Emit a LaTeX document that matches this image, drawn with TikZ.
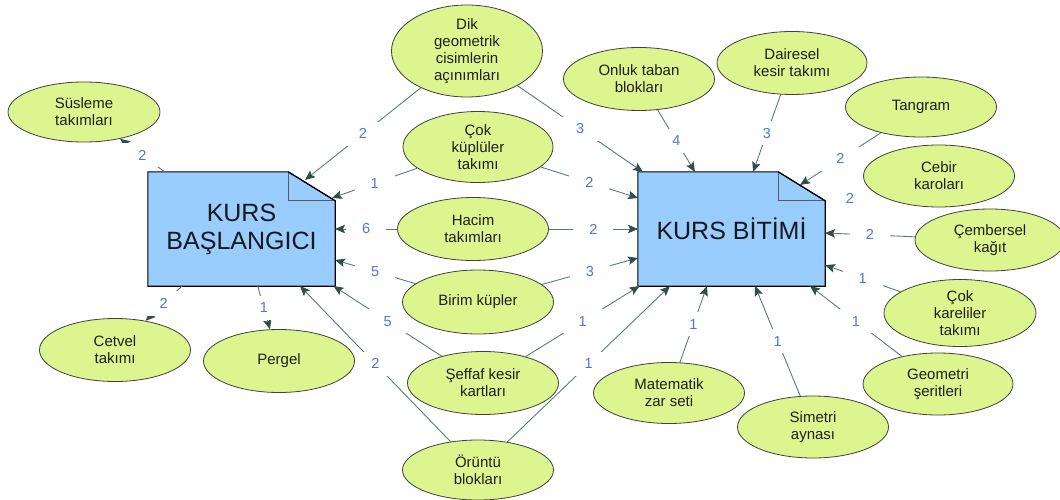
\documentclass[tikz,border=0pt]{standalone}
\usepackage{fontspec}
\setmainfont{Liberation Sans}
\usetikzlibrary{shapes.geometric,arrows.meta}

\definecolor{concol}{HTML}{DCF58E}
\definecolor{boxcol}{HTML}{99CCFF}
\definecolor{edgecol}{HTML}{5B7C77}
\definecolor{tipcol}{HTML}{2F4F4A}
\definecolor{numcol}{HTML}{4F74E3}

\pgfdeclarelayer{bg}
\pgfsetlayers{bg,main}

\tikzset{
  con/.style={ellipse, draw=black!75, fill=concol, line width=0.8pt,
    minimum width=151pt, minimum height=63pt, inner sep=0pt, align=center,
    text=black!88, font=\fontsize{15}{17}\selectfont},
  course/.style={rectangle, minimum width=187pt, minimum height=114pt,
    inner sep=0pt, align=center, text=black!90,
    font=\fontsize{25}{28}\selectfont},
  docshape/.style={draw=black, fill=boxcol, line width=1.1pt, line join=miter},
  foldline/.style={draw=black!65, line width=0.9pt},
  arr/.style={draw=edgecol, line width=0.9pt,
    -{Stealth[length=10pt,width=8.5pt,inset=2pt,color=tipcol]}},
  lbl/.style={fill=white, text=numcol, font=\fontsize{14.5}{16}\selectfont,
    minimum width=40pt, minimum height=24pt, inner sep=0pt}
}

\begin{document}
\begin{tikzpicture}[x=1pt,y=-1pt]
\useasboundingbox (0,0) rectangle (1060,500);

% course documents
\node[course] (L) at (241.5,229) {KURS\\BAŞLANGICI};
\node[course] (R) at (731.5,229) {KURS BİTİMİ};

% materials
\node[con, minimum width=152pt, minimum height=60pt] (sus) at (84,112) {Süsleme\\takımları};
\node[con, minimum height=92pt] (dik) at (467,51) {Dik\\geometrik\\cisimlerin\\açınımları};
\node[con, minimum width=150pt, minimum height=71pt] (kup) at (478,147) {Çok\\küplüler\\takımı};
\node[con] (hac) at (473,229) {Hacim\\takımları};
\node[con, minimum height=64pt] (bir) at (478,302) {Birim küpler};
\node[con] (sef) at (483,383) {Şeffaf kesir\\kartları};
\node[con, minimum height=60pt] (oru) at (478,470) {Örüntü\\blokları};
\node[con] (cet) at (115,350) {Cetvel\\takımı};
\node[con] (per) at (279,361) {Pergel};
\node[con] (onl) at (639,79) {Onluk taban\\blokları};
\node[con, minimum width=150pt] (dai) at (792,63) {Dairesel\\kesir takımı};
\node[con, minimum height=60pt] (tan) at (921,107) {Tangram};
\node[con, minimum height=62pt] (ceb) at (939,176) {Cebir\\karoları};
\node[con, minimum width=150pt, minimum height=62pt] (cem) at (990,240) {Çembersel\\kağıt};
\node[con, minimum width=152pt, minimum height=67pt] (kar) at (960,313) {Çok\\kareliler\\takımı};
\node[con, minimum width=150pt, minimum height=62pt] (geo) at (938,384) {Geometri\\şeritleri};
\node[con, minimum height=61pt] (mat) at (669,393) {Matematik\\zar seti};
\node[con, minimum height=62pt] (sim) at (813,427) {Simetri\\aynası};

\begin{pgfonlayer}{bg}
% dog-eared document outlines
\foreach \d in {L,R}{
  \path[docshape] (\d.south west) -- (\d.north west)
    -- ([shift={(-47,0)}]\d.north east) -- ([shift={(0,29)}]\d.north east)
    -- (\d.south east) -- cycle;
  \path[foldline] ([shift={(-47,0)}]\d.north east) -- ([shift={(-47,29)}]\d.north east)
    -- ([shift={(0,29)}]\d.north east);
  \path[draw=black, line width=1.1pt] ([shift={(-47,0)}]\d.north east) -- ([shift={(0,29)}]\d.north east);
}

% links of the starting course
\draw[arr] (L) -- node[lbl]{2} (sus);
\draw[arr] (L) -- node[lbl]{2} (cet);
\draw[arr] (L) -- node[lbl]{1} (per);
\draw[arr] (dik) -- node[lbl]{2} ([shift={(63.5,-49)}]L.center);
\draw[arr] (kup) -- node[lbl]{1} ([shift={(90.5,-31)}]L.center);
\draw[arr] (hac) -- node[lbl]{6} ([shift={(93.5,0)}]L.center);
\draw[arr] (bir) -- node[lbl]{5} ([shift={(93.5,31)}]L.center);
\draw[arr] (sef) -- node[lbl]{5} ([shift={(92,57)}]L.center);
\draw[arr] (oru) -- node[lbl]{2} ([shift={(58.5,57)}]L.center);

% links of the final course
\draw[arr] (dik) -- node[lbl]{3} ([shift={(-88.5,-57)}]R.center);
\draw[arr] (onl) -- node[lbl]{4} ([shift={(-36.5,-57)}]R.center);
\draw[arr] (dai) -- node[lbl]{3} ([shift={(21.5,-57)}]R.center);
\draw[arr] (tan) -- node[lbl]{2} ([shift={(68.5,-44)}]R.center);
\node[lbl] (ceblbl) at (850,198) {2};
\draw[arr] (cem) -- node[lbl]{2} ([shift={(93.5,4)}]R.center);
\draw[arr] (kar) -- node[lbl]{1} ([shift={(93.5,36)}]R.center);
\draw[arr] (geo) -- node[lbl]{1} ([shift={(78.5,57)}]R.center);
\draw[arr] (sim) -- node[lbl]{1} ([shift={(23.5,57)}]R.center);
\draw[arr] (mat) -- node[lbl]{1} ([shift={(-24.5,57)}]R.center);
\draw[arr] (oru) -- node[lbl]{1} ([shift={(-61.5,57)}]R.center);
\draw[arr] (sef) -- node[lbl]{1} ([shift={(-92,57)}]R.center);
\draw[arr] (bir) -- node[lbl]{3} ([shift={(-93.5,29)}]R.center);
\draw[arr] (hac) -- node[lbl]{2} ([shift={(-93.5,0)}]R.center);
\draw[arr] (kup) -- node[lbl]{2} ([shift={(-93.5,-31)}]R.center);
\end{pgfonlayer}
\end{tikzpicture}
\end{document}
